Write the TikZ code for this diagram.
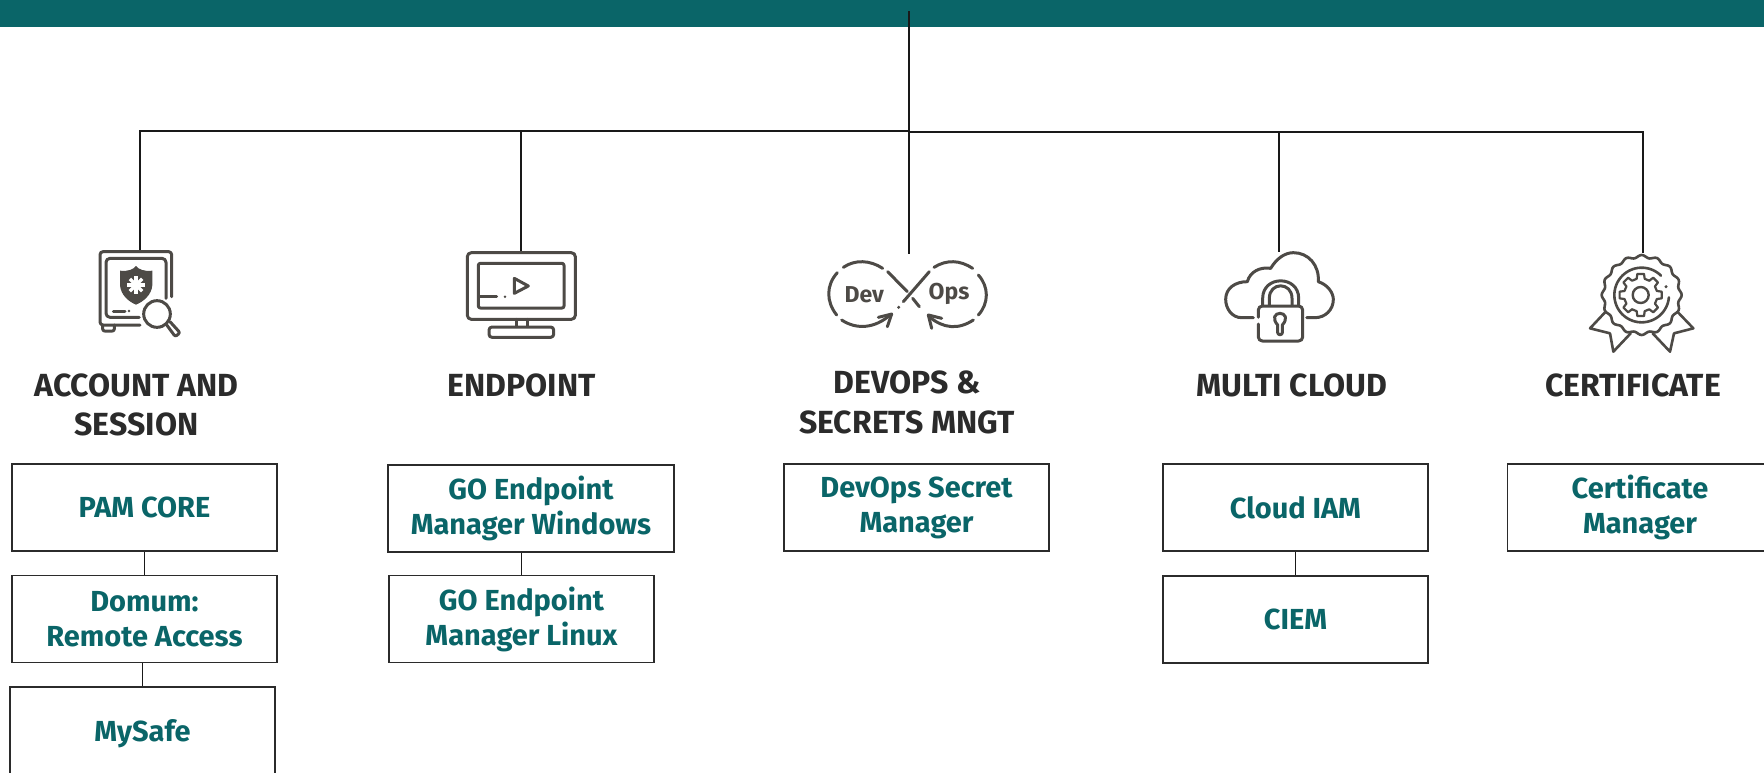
\documentclass[tikz,border=0pt]{standalone}
\usepackage{fontspec}
\setmainfont{Fira Sans}
\definecolor{teal1}{HTML}{0A6568}
\definecolor{ink}{HTML}{2B2B2B}
\definecolor{icon}{HTML}{4D4A46}
\tikzset{
  conn/.style={draw=black!90,line width=1.8pt},
  box/.style={draw=ink,line width=1.8pt,fill=white,minimum width=265pt,minimum height=87pt,inner sep=0pt,
    align=center,text=teal1,font=\fontsize{29}{35}\selectfont\bfseries},
  title/.style={text=ink,align=center,inner sep=0pt,font=\fontsize{32}{39.5}\selectfont\bfseries},
  ic/.style={draw=icon,line width=3pt,line cap=round,line join=round},
  icn/.style={shift={#1},x=0.33333pt,y=-0.33333pt}
}
\begin{document}
\begin{tikzpicture}[x=1pt,y=-1pt]
\useasboundingbox (0,0) rectangle (1764,772);
\fill[teal1] (0,0) rectangle (1764,27);
% tree
\coordinate (top) at (909,11);
\coordinate (hub) at (909,131);
\coordinate (la) at (140,131);
\coordinate (da) at (140,252);
\coordinate (lb) at (521,131);
\coordinate (db) at (521,252);
\coordinate (dc) at (909,254);
\coordinate (ld) at (1279,132);
\coordinate (dd) at (1279,252);
\coordinate (le) at (1643,132);
\coordinate (de) at (1643,253);
\draw[conn] (top) -- (dc);
\draw[conn] (da) -- (la) -- (hub);
\draw[conn] (db) -- (lb);
\draw[conn] (hub) -- (909,132) -- (le) -- (de);
\draw[conn] (ld) -- (dd);
% titles
\node[title] (t1) at (136.5,405) {ACCOUNT AND\\SESSION};
\node[title] (t2) at (521.5,385) {ENDPOINT};
\node[title] (t3) at (907,402.5) {DEVOPS \&\\SECRETS MNGT};
\node[title] (t4) at (1291.5,385) {MULTI CLOUD};
\node[title] (t5) at (1633,385) {CERTIFICATE};
% boxes
\node[box] (pam) at (144.5,507.5) {PAM CORE};
\node[box] (domum) at (144.5,619) {Domum:\\Remote Access};
\node[box,minimum height=93pt] (mysafe) at (142.5,733.5) {\raisebox{5pt}{MySafe}};
\node[box,minimum width=285.5pt] (gowin) at (531,508.5) {\raisebox{-2pt}{GO Endpoint}\\\raisebox{-2pt}{Manager Windows}};
\node[box] (golin) at (521.5,619) {\raisebox{-1pt}{GO Endpoint}\\\raisebox{-1pt}{Manager Linux}};
\node[box] (dsm) at (916.5,507.5) {\raisebox{-2pt}{DevOps Secret}\\\raisebox{-2pt}{Manager}};
\node[box] (iam) at (1295.5,507.5) {Cloud IAM};
\node[box] (ciem) at (1295.5,619.5) {CIEM};
\node[box] (cert) at (1640,507.5) {\raisebox{-2pt}{Certificate}\\\raisebox{-2pt}{Manager}};
\draw[conn] (pam) -- (domum);
\draw[conn] (mysafe.north) -- (mysafe.north |- domum.south);
\draw[conn] (golin.north) -- (golin.north |- gowin.south);
\draw[conn] (iam) -- (ciem);
% icon 1: safe
\begin{scope}[icn={(60,230)}]
\draw[ic,rounded corners=3pt] (335,200) -- (335,65) -- (120,65) -- (120,285) -- (240,285);
\draw[ic,rounded corners=4pt] (318,205) -- (318,85) -- (138,85) -- (138,262) -- (238,262);
\draw[ic,rounded corners=2pt] (128,285) -- (128,303) -- (163,303) -- (163,285);
\fill[icon] (180,122) .. controls (205,125) and (220,118) .. (228,108) .. controls (236,118) and (252,125) .. (277,122) -- (277,165) .. controls (275,195) and (250,215) .. (228,224) .. controls (206,215) and (182,195) .. (180,165) -- cycle;
\foreach \a in {0,45,90,135}
  \draw[white,line width=3.4pt] ({228+26*cos(\a)},{165+26*sin(\a)}) -- ({228-26*cos(\a)},{165-26*sin(\a)});
\draw[ic] (160,243) -- (195,243);
\fill[icon] (207,243) circle[radius=4];
\draw[ic,rounded corners=2pt] (318,282) -- (346,320) -- (360,308) -- (330,275);
\draw[ic,fill=white] (291,252) circle[radius=40];
\end{scope}
% icon 2: monitor
\begin{scope}[icn={(450,230)}]
\draw[ic,rounded corners=4pt] (52,68) rectangle (376,268);
\draw[ic,rounded corners=2pt] (85,100) rectangle (342,234);
\draw[ic] (88,200) -- (140,200);
\fill[icon] (165,200) circle[radius=4];
\draw[ic] (193,145) -- (235,168) -- (193,190) -- cycle;
\draw[ic] (198,268) -- (198,290) (232,268) -- (232,290);
\draw[ic,rounded corners=3pt] (117,291) rectangle (311,322);
\end{scope}
% icon 3: devops
\begin{scope}[icn={(810,230)}]
\draw[ic] (100,112) .. controls (135,88) and (180,90) .. (218,115);
\draw[ic] (82,128) .. controls (48,165) and (48,215) .. (80,255);
\draw[ic] (95,270) .. controls (140,300) and (195,295) .. (240,255);
\draw[ic] (205,262) -- (245,252) -- (232,290);
\draw[ic] (233,125) -- (292,185) (308,205) -- (328,230);
\draw[ic] (358,125) -- (280,215);
\fill[icon] (266,232) circle[radius=5];
\draw[ic] (372,112) .. controls (410,88) and (450,90) .. (488,115);
\draw[ic] (505,135) .. controls (537,170) and (537,220) .. (505,255);
\draw[ic] (490,270) .. controls (445,300) and (400,295) .. (360,262);
\draw[ic] (395,265) -- (355,255) -- (365,295);
\node[text=icon,font=\fontsize{23}{23}\selectfont\bfseries,inner sep=0pt] (dev) at (163,193) {Dev};
\node[text=icon,font=\fontsize{23}{23}\selectfont\bfseries,inner sep=0pt] (ops) at (417,193) {Ops};
\end{scope}
% icon 4: cloud lock
\begin{scope}[icn={(1200,230)}]
\draw[ic] (160,263) -- (125,263) .. controls (95,263) and (77,235) .. (77,208) .. controls (77,175) and (105,155) .. (142,155) .. controls (150,125) and (180,110) .. (212,115) .. controls (230,85) and (255,68) .. (280,68) .. controls (325,68) and (358,105) .. (355,155) .. controls (385,165) and (400,190) .. (400,208) .. controls (400,240) and (375,263) .. (345,263) -- (320,263);
\draw[ic,rounded corners=4pt] (175,262) -- (175,228) -- (308,228) -- (308,333) -- (175,333) -- (175,282);
\draw[ic] (188,225) -- (188,205) .. controls (188,135) and (296,135) .. (296,205) -- (296,225);
\draw[ic] (208,225) -- (208,205) .. controls (208,155) and (276,155) .. (276,205) -- (276,225);
\draw[ic] (233,285) .. controls (215,265) and (225,250) .. (240,250) .. controls (255,250) and (265,265) .. (247,285) -- (247,308) .. controls (247,316) and (233,316) .. (233,308) -- cycle;
\draw[white,line width=2pt] (292,292) -- (292,287);
\end{scope}
% icon 5: certificate
\begin{scope}[icn={(1560,230)}]
\draw[ic,line width=2.6pt] (137,245) -- (90,295) -- (150,310) -- (160,365) -- (212,310);
\draw[ic,line width=2.6pt] (352,245) -- (400,295) -- (342,310) -- (330,365) -- (278,310);
\draw[ic,line width=2.6pt,fill=white] plot[domain=0:360,samples=145,smooth] ({245+(116+4*cos(16*\x))*sin(\x)},{195-(116+4*cos(16*\x))*cos(\x)}) -- cycle;
\draw[ic,line width=2.6pt] plot[domain=-45:-355,samples=60,smooth] ({245+82*cos(\x)},{195+82*sin(\x)});
\fill[icon] (318,170) circle[radius=5];
\foreach \a in {0,45,...,315}
  \draw[ic,line width=2.2pt] ({242+50*cos(\a-14)},{195+50*sin(\a-14)}) -- ({242+64*cos(\a-9)},{195+64*sin(\a-9)}) -- ({242+64*cos(\a+9)},{195+64*sin(\a+9)}) -- ({242+50*cos(\a+14)},{195+50*sin(\a+14)}) -- ({242+50*cos(\a+31)},{195+50*sin(\a+31)});
\draw[ic,line width=2.4pt] (242,195) circle[radius=24];
\end{scope}
\end{tikzpicture}
\end{document}
